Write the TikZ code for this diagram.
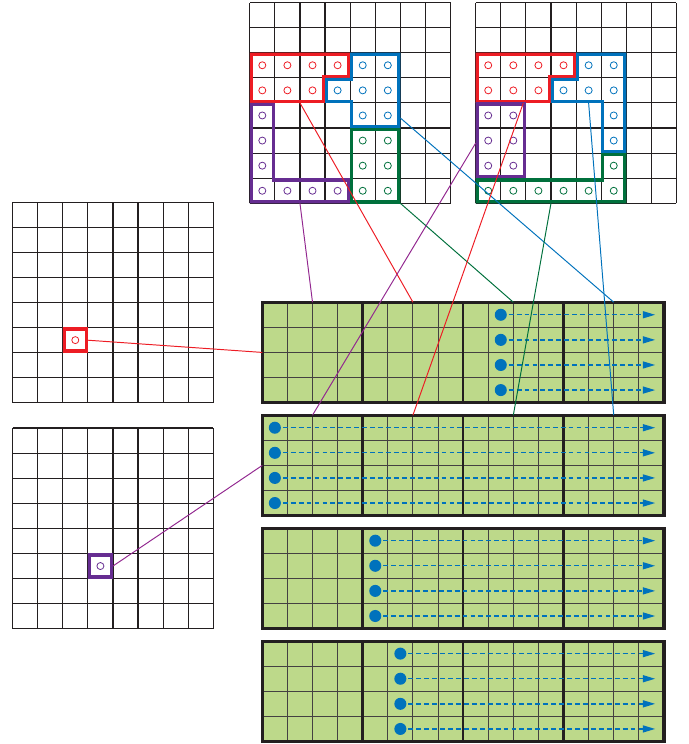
\documentclass[tikz,border=0pt]{standalone}
\usetikzlibrary{arrows.meta}
\definecolor{ink}{RGB}{35,31,32}
\definecolor{zred}{RGB}{237,28,36}
\definecolor{zblue}{RGB}{0,114,188}
\definecolor{zpurple}{RGB}{102,45,145}
\definecolor{plum}{RGB}{146,39,143}
\definecolor{zgreen}{RGB}{0,112,60}
\definecolor{leaf}{RGB}{189,217,138}
% outline drawn inside its own cells
\newcommand{\zone}[2]{\begin{scope}\clip #2; \draw[rim,#1] #2; \end{scope}}

\begin{document}
\begin{tikzpicture}[x=1cm,y=-1cm,
  gridline/.style={draw=ink,line width=1.3pt},
  ring/.style={line width=0.9pt},
  rim/.style={line width=7.5pt},
  cellline/.style={draw=ink!85,line width=1.1pt},
  blockline/.style={draw=ink,line width=2.8pt},
  frameline/.style={draw=ink,line width=3.6pt},
  flow/.style={draw=zblue,line width=1.5pt,dash pattern=on 5.5pt off 3.5pt,
    -{Triangle[length=14pt,width=8pt]}},
  link/.style={line width=1.1pt}]
\useasboundingbox (0,0) rectangle (27.41,29.64);

% left input planes
\begin{scope}[shift={(0.5,8.05)}]
\draw[gridline] (0,0) grid (8,8);
\draw[zred,ring] (2.5,5.5) circle (0.14);
\zone{zred}{(2,5) rectangle (3,6)}
\coordinate (a-e) at (2.95,5.5);
\end{scope}
\begin{scope}[shift={(0.5,17.05)}]
\draw[gridline] (0,0) grid (8,8);
\draw[zpurple,ring] (3.5,5.5) circle (0.14);
\zone{zpurple}{(3,5) rectangle (4,6)}
\coordinate (b-e) at (4,5.5);
\end{scope}

% upper planes
\begin{scope}[shift={(9.95,0.1)}]
\draw[gridline] (0,0) grid (8,8);
\foreach \c/\r in {0/2,1/2,2/2,3/2,0/3,1/3,2/3}
  \draw[zred,ring] (\c+.5,\r+.5) circle (0.14);
\foreach \c/\r in {4/2,5/2,3/3,4/3,5/3,4/4,5/4}
  \draw[zblue,ring] (\c+.5,\r+.5) circle (0.14);
\foreach \c/\r in {0/4,0/5,0/6,0/7,1/7,2/7,3/7}
  \draw[zpurple,ring] (\c+.5,\r+.5) circle (0.14);
\foreach \c/\r in {4/5,5/5,4/6,5/6,4/7,5/7}
  \draw[zgreen,ring] (\c+.5,\r+.5) circle (0.14);
\zone{zred}{(0,2) -- (4,2) -- (4,3) -- (3,3) -- (3,4) -- (0,4) -- cycle}
\zone{zblue}{(4,2) -- (6,2) -- (6,5) -- (4,5) -- (4,4) -- (3,4) -- (3,3) -- (4,3) -- cycle}
\zone{zpurple}{(0,4) -- (1,4) -- (1,7) -- (4,7) -- (4,8) -- (0,8) -- cycle}
\zone{zgreen}{(4,5) rectangle (6,8)}
\coordinate (p1) at (2,8);
\coordinate (q1) at (2,4);
\coordinate (g1) at (6,8);
\coordinate (b1) at (6,4.6);
\end{scope}

\begin{scope}[shift={(18.95,0.1)}]
\draw[gridline] (0,0) grid (8,8);
\foreach \c/\r in {0/2,1/2,2/2,3/2,0/3,1/3,2/3}
  \draw[zred,ring] (\c+.5,\r+.5) circle (0.14);
\foreach \c/\r in {4/2,5/2,3/3,4/3,5/3,5/4,5/5}
  \draw[zblue,ring] (\c+.5,\r+.5) circle (0.14);
\foreach \c/\r in {0/4,1/4,0/5,1/5,0/6,1/6}
  \draw[zpurple,ring] (\c+.5,\r+.5) circle (0.14);
\foreach \c/\r in {0/7,1/7,2/7,3/7,4/7,5/7,5/6}
  \draw[zgreen,ring] (\c+.5,\r+.5) circle (0.14);
\zone{zred}{(0,2) -- (4,2) -- (4,3) -- (3,3) -- (3,4) -- (0,4) -- cycle}
\zone{zblue}{(4,2) -- (6,2) -- (6,6) -- (5,6) -- (5,4) -- (3,4) -- (3,3) -- (4,3) -- cycle}
\zone{zpurple}{(0,4) rectangle (2,7)}
\zone{zgreen}{(0,7) -- (5,7) -- (5,6) -- (6,6) -- (6,8) -- (0,8) -- cycle}
\coordinate (p2) at (0,5.6);
\coordinate (q2) at (1.9,4);
\coordinate (g2) at (3,8);
\coordinate (b2) at (4.5,4);
\end{scope}

% output rows
\foreach \k/\s in {1/9.5,2/0.5,3/4.5,4/5.5}{
\begin{scope}[shift={(10.45,7.54+4.5*\k)}]
\fill[leaf] (0,0) rectangle (16,4);
\draw[cellline] (0,0) grid (16,4);
\foreach \x in {4,8,12} \draw[blockline] (\x,0) -- (\x,4);
\draw[frameline] (0,0) rectangle (16,4);
\foreach \r in {0,...,3}{
  \draw[flow] (\s,\r+.5) -- (15.65,\r+.5);
  \fill[zblue] (\s,\r+.5) circle (0.24);}
\foreach \x in {2,6,10,14} \coordinate (r\k-\x) at (\x,0);
\coordinate (r\k-w) at (0,2);
\end{scope}}

% links
\draw[link,zred] (a-e) -- (r1-w);
\draw[link,plum] (b-e) -- (r2-w);
\draw[link,plum] (p1) -- (r1-2);
\draw[link,zred] (q1) -- (r1-6);
\draw[link,zgreen] (g1) -- (r1-10);
\draw[link,zblue] (b1) -- (r1-14);
\draw[link,plum] (p2) -- (r2-2);
\draw[link,zred] (q2) -- (r2-6);
\draw[link,zgreen] (g2) -- (r2-10);
\draw[link,zblue] (b2) -- (r2-14);
\end{tikzpicture}
\end{document}
